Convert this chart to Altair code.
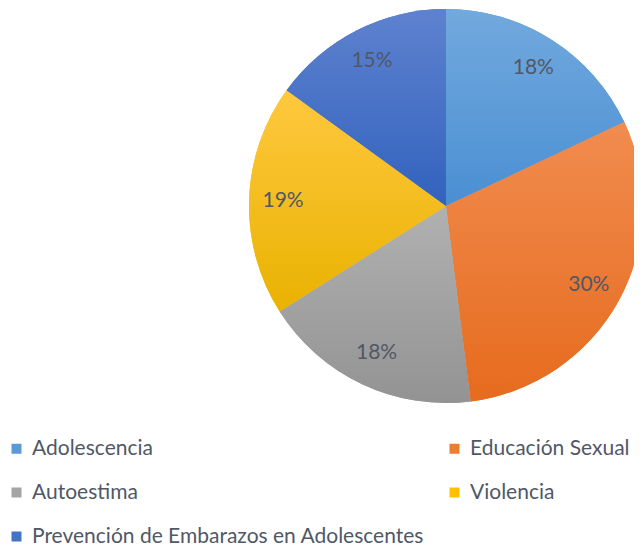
import altair as alt
import pandas as pd

categories = ["Adolescencia", "Educación Sexual", "Autoestima", "Violencia",
              "Prevención de Embarazos en Adolescentes"]
values = [18, 30, 18, 19, 15]
labels = ["18%", "30%", "18%", "19%", "15%"]
top_colors = ["#72A9DE", "#F18C4F", "#B1B1B1", "#FFC83F", "#5E82CF"]
bottom_colors = ["#4A8FD3", "#E66B1E", "#939393", "#E9B200", "#3262BD"]
mid_colors = ["#5B9BD5", "#ED7D31", "#A5A5A5", "#FFC000", "#4472C4"]

# legend is laid out column-major: left column first, then right column
legend_order = [0, 2, 4, 1, 3]
legend_domain = [categories[i] for i in legend_order]
legend_range = [mid_colors[i] for i in legend_order]

df = pd.DataFrame({"cat": categories, "value": values, "label": labels,
                   "order": list(range(len(categories)))})

CX, CY, R = 438, 198, 197
TEXT = "#505866"
FONT = "Lato"

theta_scale = alt.Scale(domain=[0, 100])

base = (alt.Chart(df)
        .transform_window(cum="sum(value)", frame=[None, 0],
                          sort=[alt.SortField("order")])
        .transform_calculate(start="datum.cum - datum.value",
                             mid="datum.cum - datum.value / 2"))

legend_layer = base.mark_arc(radius=R, strokeWidth=0).encode(
    theta=alt.Theta("start:Q", scale=theta_scale),
    theta2="cum:Q",
    x=alt.value(CX), y=alt.value(CY),
    color=alt.Color("cat:N", scale=alt.Scale(domain=legend_domain, range=legend_range),
                    legend=alt.Legend(title=None, orient="none", legendX=-2, legendY=430,
                                      columns=2, columnPadding=19, rowPadding=22,
                                      symbolType="square", symbolSize=100,
                                      symbolStrokeWidth=0, labelFontSize=21,
                                      labelFont=FONT, labelColor=TEXT,
                                      labelLimit=600, labelOffset=5)),
)

layers = [legend_layer]
for i, c in enumerate(categories):
    grad = alt.LinearGradient(
        gradient="linear", x1=0, y1=0, x2=0, y2=1,
        stops=[alt.GradientStop(color=top_colors[i], offset=0),
               alt.GradientStop(color=bottom_colors[i], offset=1)])
    layers.append(
        base.transform_filter(alt.datum.cat == c)
        .mark_arc(radius=R, color=grad, strokeWidth=0)
        .encode(theta=alt.Theta("start:Q", scale=theta_scale), theta2="cum:Q",
                x=alt.value(CX), y=alt.value(CY))
    )

text_layer = base.mark_text(radius=163, fontSize=21, font=FONT, color=TEXT).encode(
    theta=alt.Theta("mid:Q", scale=theta_scale),
    x=alt.value(CX), y=alt.value(CY),
    text="label:N",
)
layers.append(text_layer)

chart = alt.layer(*layers).properties(
    width=626, height=538, padding=0, autosize="none", background="white"
).configure_view(stroke=None)

chart.save("out.html", embed_options={"renderer": "svg", "actions": False})
